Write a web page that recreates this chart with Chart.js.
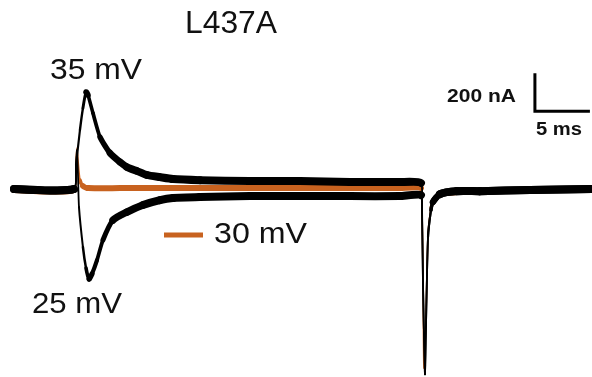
<!DOCTYPE html>
<html>
<head>
<meta charset="utf-8">
<script src="https://cdn.jsdelivr.net/npm/chart.js@4.4.0/dist/chart.umd.min.js"></script>
<style>
  html, body { margin: 0; padding: 0; background: #ffffff; }
  #wrap { position: relative; width: 592px; height: 377px; }
</style>
</head>
<body>
<div id="wrap"><canvas id="c" width="592" height="377"></canvas></div>
<script>
// ---- Data (time in ms, current in nA) ----
const t35 = [0, 5.45, 5.64, 6.00, 6.27, 6.55, 6.73, 7.18, 7.82, 8.73, 9.64, 10.27, 11.18, 12.09, 13.27, 14.45, 16.91, 21.45, 26.00, 30.55, 35.09, 37.00, 37.09, 37.18, 37.36, 37.45, 37.64, 37.91, 38.09, 38.73, 40.27, 42.36, 46.91, 52.55];
const i35 = [0, 0, 126, 311, 426, 511, 495, 400, 274, 189, 142, 116, 95, 74, 63, 53, 47, 42, 42, 37, 37, 32, -58, -479, -974, -742, -253, -111, -68, -26, -11, -11, -5, 0];

const t25 = [0, 5.45, 5.64, 5.73, 5.82, 5.91, 6.27, 6.55, 6.82, 7.09, 7.55, 8.09, 9.00, 10.27, 11.73, 13.27, 14.45, 16.91, 21.45, 26.00, 30.55, 35.09, 37.00, 37.09, 37.18, 37.36, 37.45, 37.64, 37.91, 38.09, 38.73, 40.27, 42.36, 46.91, 52.55];
const i25 = [0, 0, 126, 205, 74, -95, -305, -416, -474, -447, -374, -268, -163, -121, -84, -58, -47, -42, -37, -37, -37, -37, -32, -111, -479, -974, -742, -253, -111, -68, -26, -11, -11, -5, 0];

const t30 = [0, 5.45, 5.64, 5.73, 5.82, 6.00, 6.27, 6.73, 9.64, 16.91, 26.00, 35.09, 37.00, 37.09, 37.18, 37.27, 37.45, 37.64, 37.91, 38.18, 38.73, 40.27, 42.36, 46.91, 52.55];
const i30 = [-5, -5, 153, 216, 153, 47, 16, 5, 5, 5, 5, 5, 5, -84, -426, -942, -689, -242, -100, -58, -26, -16, -11, -5, -5];

const seriesLabels = ["35 mV", "25 mV", "30 mV"];
const titleText = "L437A";
const scaleBarTime = 5;      // ms
const scaleBarCurrent = 200; // nA
const scaleBarOrigin = {x: 47.36, y: 410};

const BLACK = "#000000";
const ORANGE = "#C8621F";

function pts(t, v) { return t.map((x, k) => ({x: x, y: v[k]})); }

// noisy band look: roughly constant vertical thickness, thinner on steep segments
function bandWidth(vThick, minW) {
  return (ctx) => {
    const dx = ctx.p1.x - ctx.p0.x, dy = ctx.p1.y - ctx.p0.y;
    const len = Math.hypot(dx, dy) || 1;
    const cos = Math.abs(dx) / len;
    return Math.max(minW, vThick * Math.pow(cos, 0.6));
  };
}

const textPlugin = {
  id: "texts",
  afterDraw(chart) {
    const c = chart.ctx;
    c.save();
    c.fillStyle = "#111";
    c.textBaseline = "alphabetic";
    c.textAlign = "left";
    function txt(s, x, y, font, w) {
      c.font = font;
      const m = c.measureText(s).width;
      c.save();
      c.translate(x, y);
      c.scale(w / m, 1);
      c.fillText(s, 0, 0);
      c.restore();
    }
    const F = "'Liberation Sans', Arial, sans-serif";
    txt(titleText, 185, 33, "31px " + F, 92);
    txt(seriesLabels[0], 50, 79, "29px " + F, 92);
    txt(seriesLabels[1], 32, 313, "29px " + F, 90);
    txt(seriesLabels[2], 214, 243, "29px " + F, 93);
    txt(scaleBarCurrent + " nA", 447, 102, "bold 19px " + F, 69);
    txt(scaleBarTime + " ms", 536, 135, "bold 18px " + F, 46);
    // legend swatch for 30 mV
    c.strokeStyle = ORANGE;
    c.lineWidth = 5;
    c.beginPath();
    c.moveTo(164, 235);
    c.lineTo(203, 235);
    c.stroke();
    c.restore();
  }
};

new Chart(document.getElementById("c"), {
  type: "line",
  data: {
    datasets: [
      {
        label: "scale bar",
        data: [
          {x: scaleBarOrigin.x, y: scaleBarOrigin.y + scaleBarCurrent},
          {x: scaleBarOrigin.x, y: scaleBarOrigin.y},
          {x: scaleBarOrigin.x + scaleBarTime, y: scaleBarOrigin.y}
        ],
        borderColor: BLACK, borderWidth: 3, pointRadius: 0,
        borderJoinStyle: "miter", tension: 0
      },
      {
        label: seriesLabels[0], data: pts(t35, i35),
        borderColor: BLACK, pointRadius: 0, tension: 0.2,
        borderCapStyle: "round", borderJoinStyle: "round",
        segment: { borderWidth: bandWidth(8, 1.8) }
      },
      {
        label: seriesLabels[1], data: pts(t25, i25),
        borderColor: BLACK, pointRadius: 0, tension: 0.2,
        borderCapStyle: "round", borderJoinStyle: "round",
        segment: { borderWidth: bandWidth(8, 1.8) }
      },
      {
        label: seriesLabels[2], data: pts(t30, i30),
        borderColor: ORANGE, pointRadius: 0, tension: 0.2,
        borderCapStyle: "round", borderJoinStyle: "round",
        segment: { borderWidth: bandWidth(6, 1.6) }
      }
    ]
  },
  options: {
    responsive: false,
    animation: false,
    layout: { padding: 0 },
    plugins: { legend: { display: false }, tooltip: { enabled: false }, title: { display: false } },
    scales: {
      x: { type: "linear", min: -1.27, max: 52.55, display: false },
      y: { type: "linear", min: -989, max: 995, display: false }
    }
  },
  plugins: [textPlugin]
});
</script>
</body>
</html>
